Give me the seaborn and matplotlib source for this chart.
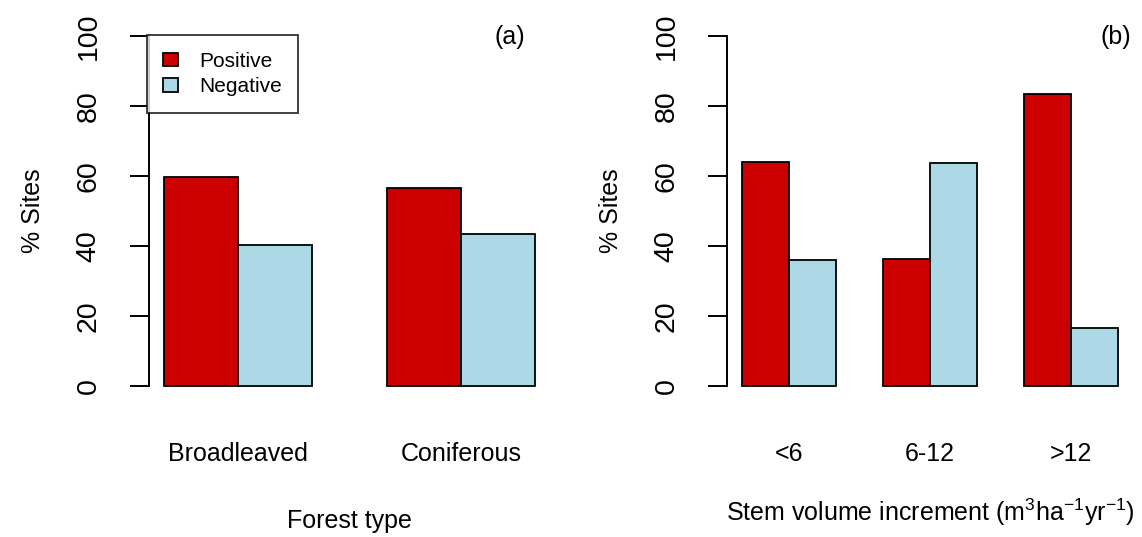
import pandas as pd
import matplotlib.pyplot as plt
import seaborn as sns
from matplotlib.patches import Patch

# panel (a): forest type
forest_types = ["Broadleaved", "Coniferous"]
forest_positive = [59.6, 56.7]
forest_negative = [40.4, 43.3]

# panel (b): stem volume increment classes
increment_classes = ["<6", "6-12", ">12"]
increment_positive = [64.0, 36.4, 83.3]
increment_negative = [36.0, 63.6, 16.7]

effects = ["Positive", "Negative"]
colors = ["#CD0000", "#ADD8E6"]
y_ticks = [0, 20, 40, 60, 80, 100]


def make_df(cats, pos, neg):
    return pd.DataFrame({
        "cat": cats + cats,
        "pct": pos + neg,
        "effect": [effects[0]] * len(cats) + [effects[1]] * len(cats),
    })


sns.set_style("white")
plt.rcParams["font.family"] = ["Liberation Sans", "DejaVu Sans"]
plt.rcParams["mathtext.fontset"] = "custom"
plt.rcParams["mathtext.rm"] = "Liberation Sans"
plt.rcParams["mathtext.default"] = "regular"
for key in ["text.color", "axes.labelcolor", "xtick.color", "ytick.color"]:
    plt.rcParams[key] = "black"

fig = plt.figure(figsize=(11.42, 5.37), dpi=100)
ax_a = fig.add_axes([149 / 1142, 1 - 400 / 537, 401 / 1142, 378 / 537])
ax_b = fig.add_axes([727 / 1142, 1 - 400 / 537, 406 / 1142, 378 / 537])

panels = [
    (ax_a, make_df(forest_types, forest_positive, forest_negative), forest_types,
     "Forest type", 31, "(a)", 0.90),
    (ax_b, make_df(increment_classes, increment_positive, increment_negative), increment_classes,
     "Stem volume increment (m$^{3}$ha$^{-1}$yr$^{-1}$)", 22, "(b)", 0.957),
]

for ax, df, cats, xlab, xpad, tag, tag_x in panels:
    sns.barplot(data=df, x="cat", y="pct", hue="effect", order=cats, hue_order=effects,
                palette=colors, saturation=1, width=2 / 3, gap=0, edgecolor="black",
                linewidth=1.3, ax=ax, legend=False)
    n = len(cats)
    span = n - 1 + 2 / 3
    ax.set_xlim(-1 / 3 - 0.04 * span, n - 1 + 1 / 3 + 0.04 * span)
    ax.set_ylim(-4, 104)
    ax.set_yticks(y_ticks)
    ax.set_yticklabels([str(t) for t in y_ticks], rotation=90, va="center")
    for s in ["top", "right", "bottom"]:
        ax.spines[s].set_visible(False)
    ax.spines["left"].set_bounds(0, 100)
    ax.spines["left"].set_linewidth(1.4)
    ax.spines["left"].set_color("black")
    ax.tick_params(axis="y", length=14, width=1.4, pad=20, labelsize=20.5, left=True)
    ax.tick_params(axis="x", length=0, pad=30, labelsize=18)
    ax.set_ylabel("% Sites", fontsize=18, labelpad=22)
    ax.set_xlabel(xlab, fontsize=18, labelpad=xpad)
    ax.text(tag_x, 0.96, tag, transform=ax.transAxes, fontsize=18, ha="center", va="center")

handles = [Patch(facecolor=c, edgecolor="black", linewidth=1.3) for c in colors]
leg = ax_a.legend(handles, effects, loc="upper left", bbox_to_anchor=(ax_a.get_xlim()[0] - 0.01, 100.3),
                  bbox_transform=ax_a.transData, borderaxespad=0, fontsize=15, fancybox=False,
                  frameon=True, edgecolor="black", handlelength=0.7, handleheight=0.6,
                  handletextpad=1.0, borderpad=0.8, labelspacing=0.32)
leg.get_frame().set_linewidth(1.3)

fig.savefig("out.png", dpi=100, facecolor="white")
